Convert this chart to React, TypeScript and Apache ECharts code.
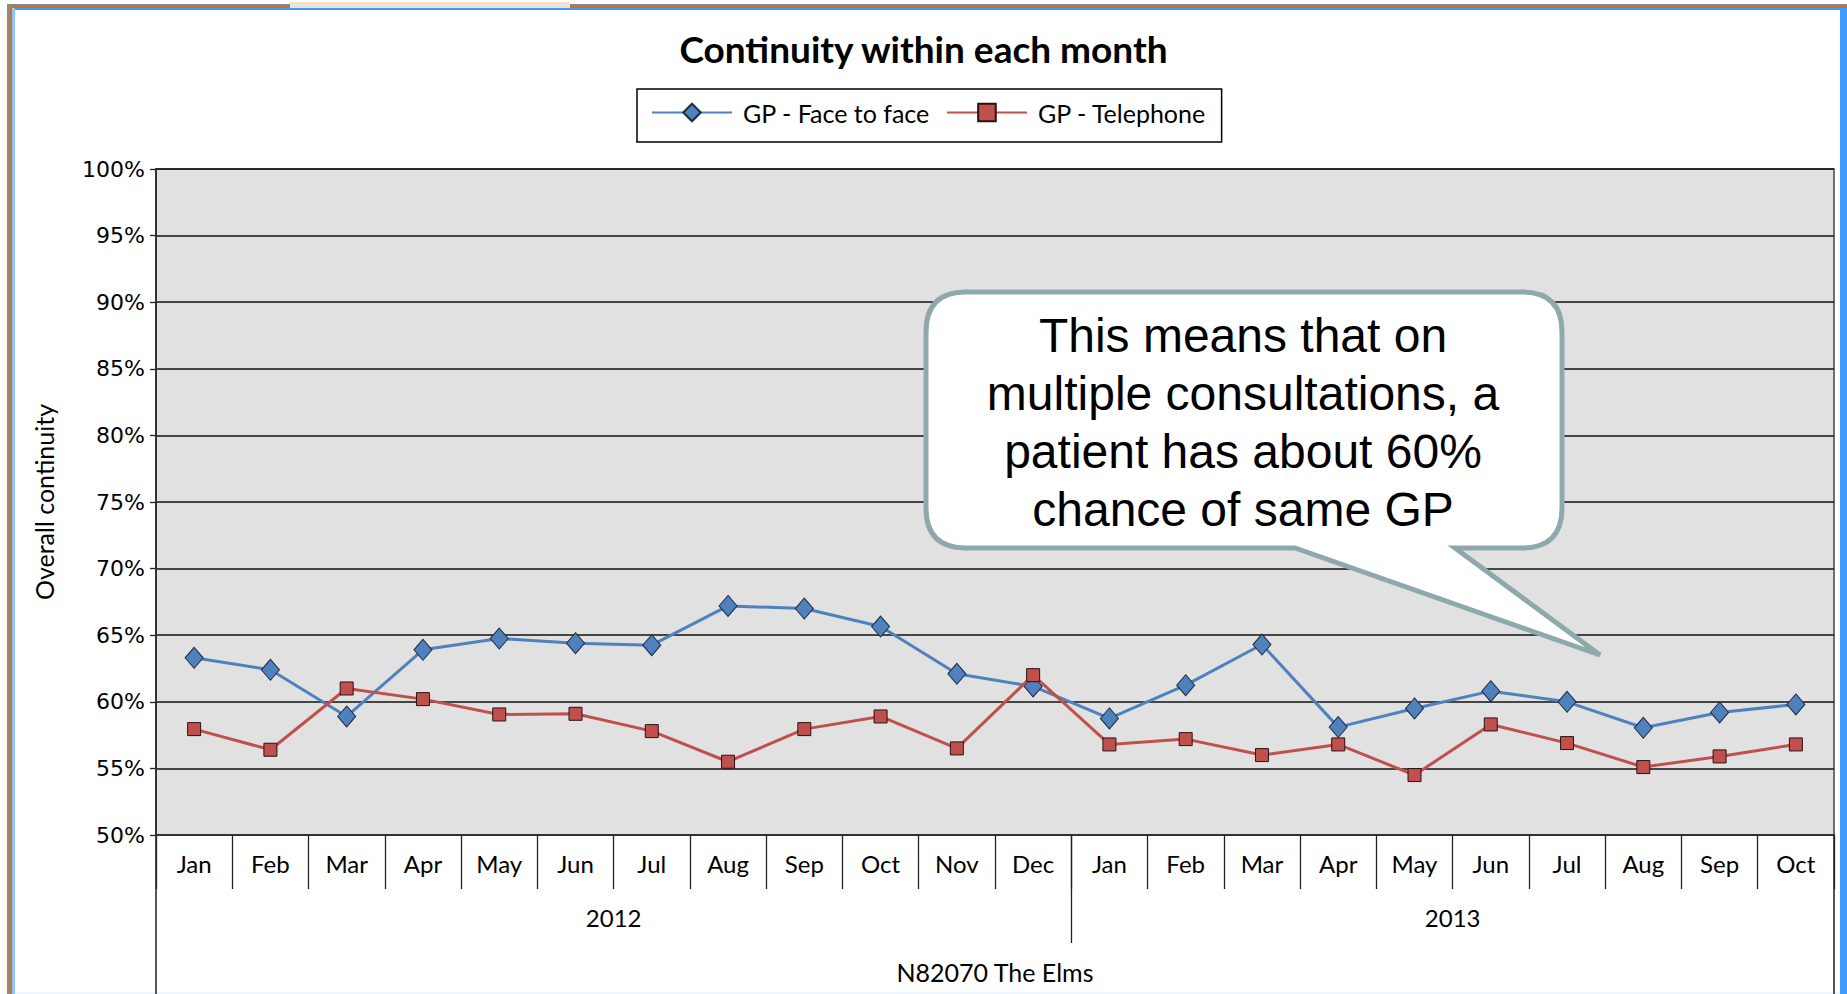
import React, { useEffect, useRef } from "react";
import * as echarts from "echarts";

// ---------- data ----------
const months = ["Jan","Feb","Mar","Apr","May","Jun","Jul","Aug","Sep","Oct","Nov","Dec","Jan","Feb","Mar","Apr","May","Jun","Jul","Aug","Sep","Oct"];
const years = ["2012", "2013"];
const monthsPerYear = [12, 10];
const faceToFace = [63.3,62.4,58.9,63.9,64.75,64.4,64.25,67.2,67.0,65.65,62.1,61.15,58.75,61.25,64.3,58.1,59.5,60.8,60.0,58.05,59.2,59.8];
const telephone = [57.95,56.4,61.0,60.2,59.05,59.1,57.8,55.5,57.95,58.9,56.5,62.0,56.8,57.2,56.0,56.8,54.5,58.3,56.9,55.1,55.9,56.8];
const seriesNames = ["GP - Face to face", "GP - Telephone"];
const yMin = 50, yMax = 100, yStep = 5;
const titleText = "Continuity within each month";
const yTitle = "Overall continuity";
const xTitle = "N82070 The Elms";
const calloutLines = ["This means that on", "multiple consultations, a", "patient has about 60%", "chance of same GP"];

// callout bubble outline
const calloutPath =
  "M966 292 L1522 292 Q1562 292 1562 332 L1562 508 Q1562 548 1522 548 L1455 548 L1600 655 L1295 548 L966 548 Q926 548 926 508 L926 332 Q926 292 966 292 Z";
echarts.graphic.registerShape("callout", echarts.graphic.extendPath(calloutPath, {}));

const LATO = "Lato, 'Open Sans', sans-serif";

export default function App() {
  const ref = useRef<HTMLDivElement>(null);
  useEffect(() => {
    if (!ref.current) return;
    const chart = echarts.init(ref.current, undefined, { renderer: "svg" });

    // year centres / boundaries (in month units)
    const yearCentres: number[] = [];
    const yearBounds: number[] = [];
    let acc = 0;
    monthsPerYear.forEach((n, i) => {
      yearCentres.push(acc + n / 2);
      acc += n;
      if (i < monthsPerYear.length - 1) yearBounds.push(acc);
    });

    chart.setOption({
      animation: false,
      backgroundColor: "#ffffff",
      title: {
        text: titleText,
        left: "center",
        top: 25,
        textStyle: { fontFamily: LATO, fontWeight: "bold", fontSize: 37, color: "#000" },
      },
      legend: {
        data: seriesNames,
        left: 637,
        top: 89,
        padding: [11, 15, 17, 14],
        itemWidth: 80,
        itemHeight: 22,
        itemGap: 16,
        borderColor: "#000",
        borderWidth: 1.5,
        textStyle: { fontFamily: LATO, fontSize: 25, color: "#000", padding: [0, 0, 0, 6] },
      },
      grid: {
        left: 156,
        right: 13,
        top: 169,
        bottom: 159,
        show: true,
        backgroundColor: "#e1e1e1",
        borderColor: "#444",
        borderWidth: 1.5,
      },
      xAxis: [
        {
          type: "category",
          data: months,
          boundaryGap: true,
          position: "bottom",
          axisLine: { show: true, lineStyle: { color: "#333", width: 2 } },
          axisTick: { show: true, interval: 0, length: 54, lineStyle: { color: "#222", width: 1.3 } },
          axisLabel: { interval: 0, margin: 16, fontFamily: LATO, fontSize: 24, color: "#000" },
          splitLine: { show: false },
        },
        {
          type: "value",
          min: 0,
          max: months.length,
          position: "bottom",
          axisLine: { show: false },
          axisTick: { show: true, customValues: yearBounds, length: 108, lineStyle: { color: "#222", width: 1.3 } },
          axisLabel: {
            customValues: yearCentres,
            margin: 70,
            fontFamily: LATO,
            fontSize: 24,
            color: "#000",
            formatter: (v: number) => {
              const i = yearCentres.findIndex((c) => Math.abs(c - v) < 1e-6);
              return i >= 0 ? years[i] : "";
            },
          },
          splitLine: { show: false },
          name: xTitle,
          nameLocation: "middle",
          nameGap: 124,
          nameTextStyle: { fontFamily: LATO, fontSize: 25, color: "#000" },
        },
      ],
      yAxis: {
        type: "value",
        min: yMin,
        max: yMax,
        interval: yStep,
        axisLine: { show: true, lineStyle: { color: "#333", width: 2 } },
        axisTick: { show: true, length: 6, lineStyle: { color: "#222", width: 1.3 } },
        axisLabel: { margin: 11, fontFamily: "'DejaVu Sans', Verdana, sans-serif", fontSize: 22, color: "#000", formatter: "{value}%" },
        splitLine: { show: true, lineStyle: { color: "#111", width: 1.5 } },
        name: yTitle,
        nameLocation: "middle",
        nameRotate: 90,
        nameGap: 100,
        nameTextStyle: { fontFamily: LATO, fontSize: 25, color: "#000" },
      },
      series: [
        {
          name: seriesNames[0],
          type: "line",
          xAxisIndex: 0,
          data: faceToFace,
          symbol: "diamond",
          symbolSize: [18, 21],
          lineStyle: { color: "#4f81bd", width: 3 },
          itemStyle: { color: "#4f81bd", borderColor: "#1d2b40", borderWidth: 1 },
          z: 3,
        },
        {
          name: seriesNames[1],
          type: "line",
          xAxisIndex: 0,
          data: telephone,
          symbol: "rect",
          symbolSize: 13,
          lineStyle: { color: "#c0504d", width: 3 },
          itemStyle: { color: "#c0504d", borderColor: "#2a1212", borderWidth: 1 },
          z: 4,
        },
      ],
      graphic: [
        // window frame decorations
        { type: "rect", shape: { x: 7, y: 4, width: 1840, height: 2 }, style: { fill: "#8c8c8c" }, silent: true },
        { type: "rect", shape: { x: 10, y: 5, width: 1837, height: 3 }, style: { fill: "#c8742a" }, silent: true },
        { type: "rect", shape: { x: 290, y: 2, width: 280, height: 6 }, style: { fill: "#ece2d4" }, silent: true },
        { type: "rect", shape: { x: 12, y: 8, width: 1835, height: 2 }, style: { fill: "#3d9bff" }, silent: true },
        { type: "rect", shape: { x: 7, y: 4, width: 3, height: 990 }, style: { fill: "#8c8c8c" }, silent: true },
        { type: "rect", shape: { x: 10, y: 5, width: 2, height: 989 }, style: { fill: "#c8742a" }, silent: true },
        { type: "rect", shape: { x: 12, y: 8, width: 3, height: 986 }, style: { fill: "#8cc6ff" }, silent: true },
        { type: "rect", shape: { x: 1840, y: 8, width: 7, height: 986 }, style: { fill: "#3d9bff" }, silent: true },
        { type: "rect", shape: { x: 15, y: 992, width: 1825, height: 2 }, style: { fill: "#eef6ff" }, silent: true },
        // axis extensions below plot
        { type: "line", shape: { x1: 156, y1: 835, x2: 156, y2: 994 }, style: { stroke: "#555", lineWidth: 2 }, silent: true },
        { type: "line", shape: { x1: 1834, y1: 835, x2: 1834, y2: 994 }, style: { stroke: "#555", lineWidth: 2 }, silent: true },
        // callout
        { type: "callout", x: 0, y: 0, z: 100, style: { fill: "#ffffff", stroke: "#8fa8ab", lineWidth: 5 }, silent: true },
        {
          type: "text",
          x: 1243,
          y: 422,
          z: 101,
          silent: true,
          style: {
            text: calloutLines.join("\n"),
            fontSize: 48,
            fontFamily: "'Liberation Sans', Arial, sans-serif",
            fill: "#000",
            align: "center",
            verticalAlign: "middle",
            textAlign: "center",
            textVerticalAlign: "middle",
            lineHeight: 58,
          },
        },
      ],
    });
    return () => chart.dispose();
  }, []);
  return <div ref={ref} style={{ position: "fixed", left: 0, top: 0, width: 1847, height: 994 }} />;
}
